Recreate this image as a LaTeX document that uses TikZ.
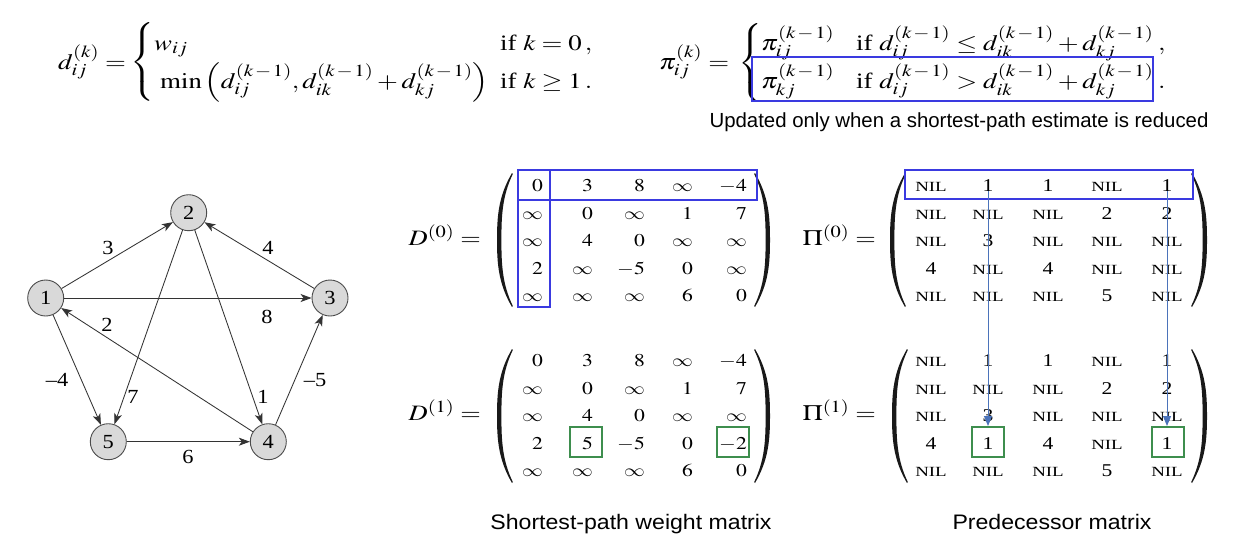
\documentclass[tikz,border=0pt]{standalone}
\usepackage{mathptmx}
\usepackage{amsmath}
\usepackage[no-math]{fontspec}
\setmainfont{Liberation Serif}
\newfontfamily\arialfont{Liberation Sans}
\usetikzlibrary{arrows.meta}
\DeclareSymbolFont{cmsyfont}{OMS}{cmsy}{m}{n}
\DeclareMathSymbol{\cminf}{\mathord}{cmsyfont}{"31}
\DeclareMathSizes{22}{22}{17}{13}
\definecolor{bblue}{HTML}{3A3AE0}
\definecolor{bgreen}{HTML}{3E8E4E}
\definecolor{arrowblue}{HTML}{4B73BA}
\definecolor{nodefill}{HTML}{D9D9D9}
\definecolor{edgegray}{HTML}{333333}
\newcommand{\F}[1]{\scalebox{1.22}[1]{$#1$}}
\newcommand{\M}[1]{\scalebox{1.2}[1]{$#1$}}
\newcommand{\G}[1]{\scalebox{1.12}[1]{#1}}
\newcommand{\I}{\cminf}
\newcommand{\km}{(k\mskip1.5mu-\mskip1.5mu1)}
\newcommand{\NILtxt}{\scalebox{1.125}[1]{\fontsize{14}{14}\selectfont NIL}}
\newcommand{\Drow}[3]{\foreach \v [count=\c] in {#3} {\pgfmathsetmacro\xx{{543,593,645,693,747}[\c-1]}\node[ment, anchor=base east] (#1-\c) at (\xx,#2) {\M{\v}};}}
\newcommand{\Prow}[3]{\foreach \v [count=\c] in {#3} {\pgfmathsetmacro\xx{{931,988,1048,1107,1167}[\c-1]}\node[ment, anchor=base] (#1-\c) at (\xx,#2) {\scalebox{1.2}[1]{\v}};}}
\tikzset{
  gnode/.style={circle, draw=black!70, line width=0.9pt, fill=nodefill, minimum size=36pt, inner sep=0pt, font=\fontsize{20}{20}\selectfont},
  gedge/.style={draw=edgegray, line width=0.85pt, -{Stealth[length=11pt,width=8pt,inset=3pt]}},
  glabel/.style={inner sep=0pt, font=\fontsize{20}{20}\selectfont},
  ment/.style={inner sep=0pt, font=\fontsize{18}{18}\selectfont},
  mlab/.style={inner sep=0pt, anchor=base east, font=\fontsize{22}{22}\selectfont},
  fpart/.style={inner sep=0pt, font=\fontsize{22}{22}\selectfont, anchor=base west},
  bluebox/.style={draw=bblue, line width=2.2pt},
  gbox/.style={draw=bgreen, line width=2pt, minimum width=32pt, minimum height=30pt, inner sep=0pt},
  barrow/.style={draw=arrowblue, line width=0.9pt, -{Triangle[length=10pt,width=8pt]}},
  sanscap/.style={inner sep=0pt, anchor=base, font=\arialfont\fontsize{21}{21}\selectfont},
  updtext/.style={inner sep=0pt, anchor=base, font=\arialfont\fontsize{20.4}{22}\selectfont},
  lpar/.pic={\fill[black!90] (15,-67) .. controls (1.5,-44) and (0,-24) .. (0,0) .. controls (0,24) and (1.5,44) .. (15,67) -- (15.8,66) .. controls (5.2,44) and (4.4,24) .. (4.4,0) .. controls (4.4,-24) and (5.2,-44) .. (15.8,-66) -- cycle;}
}
\begin{document}
\begin{tikzpicture}[x=1pt,y=-1pt]
\useasboundingbox[fill=white] (0,0) rectangle (1244,555);
% ---------- formula 1
\node[fpart] (f1lhs) at (58,69) {\F{d_{ij}^{(k)} =}};
\node[fpart, anchor=center] (f1br) at (143.5,62) {\F{\left\{\vcenter{\hbox{\vrule height 78pt width 0pt}}\right.}};
\node[fpart] (f1r1) at (154,50) {\F{w_{ij}}};
\node[fpart] (f1r2) at (160,88) {\F{\min\,\Bigl(d_{ij}^{\km}, d_{ik}^{\km} + d_{kj}^{\km}\Bigr)}};
\node[fpart] (f1c1) at (500,50) {\F{\text{if } k = 0\,,}};
\node[fpart] (f1c2) at (500,88) {\F{\text{if } k \geq 1\,.}};
% ---------- formula 2
\node[fpart] (f2lhs) at (659,69) {\F{\pi_{ij}^{(k)} =}};
\node[fpart, anchor=center] (f2br) at (751.5,63) {\F{\left\{\vcenter{\hbox{\vrule height 78pt width 0pt}}\right.}};
\node[fpart] (f2r1a) at (761,50) {\F{\pi_{ij}^{\km}}};
\node[fpart] (f2r2a) at (761,88) {\F{\pi_{kj}^{\km}}};
\node[fpart] (f2r1b) at (856,50) {\F{\text{if } d_{ij}^{\km} \leq d_{ik}^{\km} + d_{kj}^{\km}}};
\node[fpart] (f2r2b) at (856,88) {\F{\text{if } d_{ij}^{\km} > d_{ik}^{\km} + d_{kj}^{\km}}};
\node[fpart] (f2comma) at (1158,50) {\F{,}};
\node[fpart] (f2dot) at (1158,88) {\F{.}};
\draw[bluebox] (752,57) rectangle (1153,101);
\node[updtext] (upd) at (959,127) {Updated only when a shortest-path estimate is reduced};
% ---------- graph
\node[gnode] (v1) at (45.7,298) {\G{1}};
\node[gnode] (v2) at (188.7,212.7) {\G{2}};
\node[gnode] (v3) at (330,298) {\G{3}};
\node[gnode] (v4) at (268.3,441.7) {\G{4}};
\node[gnode] (v5) at (108.3,441.7) {\G{5}};
\draw[gedge] (v1) -- (v2);
\draw[gedge] (v3) -- (v2);
\draw[gedge] (v1) -- (v3);
\draw[gedge] (v4) -- (v1);
\draw[gedge] (v1) -- (v5);
\draw[gedge] (v2) -- (v5);
\draw[gedge] (v2) -- (v4);
\draw[gedge] (v4) -- (v3);
\draw[gedge] (v5) -- (v4);
\node[glabel] (w12) at (108,248) {\G{3}};
\node[glabel] (w32) at (268,248) {\G{4}};
\node[glabel] (w13) at (267,317) {\G{8}};
\node[glabel] (w41) at (107,325) {\G{2}};
\node[glabel] (w15) at (57,380) {\G{–4}};
\node[glabel] (w25) at (133,397) {\G{7}};
\node[glabel] (w24) at (263,397) {\G{1}};
\node[glabel] (w43) at (315,380) {\G{–5}};
\node[glabel] (w54) at (188,457) {\G{6}};
% ---------- D(0)
\node[mlab] (d0lab) at (481,245.5) {\M{D^{(0)} =}};
\pic at (497,240) {lpar};
\pic[xscale=-1] at (770,240) {lpar};
\Drow{d0-1}{191}{0,3,8,\I,-4}
\Drow{d0-2}{219.5}{\I,0,\I,1,7}
\Drow{d0-3}{246}{\I,4,0,\I,\I}
\Drow{d0-4}{274.5}{2,\I,-5,0,\I}
\Drow{d0-5}{301}{\I,\I,\I,6,0}
\draw[bluebox] (518,170) rectangle (757,200);
\draw[bluebox] (518,170) rectangle (550,307);
% ---------- D(1)
\node[mlab] (d1lab) at (481,420.5) {\M{D^{(1)} =}};
\pic at (497,416) {lpar};
\pic[xscale=-1] at (770,416) {lpar};
\Drow{d1-1}{366}{0,3,8,\I,-4}
\Drow{d1-2}{394}{\I,0,\I,1,7}
\Drow{d1-3}{421}{\I,4,0,\I,\I}
\Drow{d1-4}{449}{2,5,-5,0,-2}
\Drow{d1-5}{476}{\I,\I,\I,6,0}
\node[gbox] (dg1) at (586,442) {};
\node[gbox] (dg2) at (732.5,442) {};
\node[sanscap] (cap1) at (631,529) {\scalebox{1.1}[1]{Shortest-path weight matrix}};
% ---------- Pi(0)
\node[mlab] (p0lab) at (876,245.5) {\M{\Pi^{(0)} =}};
\pic at (890,240) {lpar};
\pic[xscale=-1] at (1207,240) {lpar};
\Prow{p0-1}{191}{\NILtxt,1,1,\NILtxt,1}
\Prow{p0-2}{219.5}{\NILtxt,\NILtxt,\NILtxt,2,2}
\Prow{p0-3}{246}{\NILtxt,3,\NILtxt,\NILtxt,\NILtxt}
\Prow{p0-4}{274.5}{4,\NILtxt,4,\NILtxt,\NILtxt}
\Prow{p0-5}{301}{\NILtxt,\NILtxt,\NILtxt,5,\NILtxt}
\draw[bluebox] (905,170) rectangle (1193,199);
% ---------- Pi(1)
\node[mlab] (p1lab) at (876,420.5) {\M{\Pi^{(1)} =}};
\pic at (892,416) {lpar};
\pic[xscale=-1] at (1207,416) {lpar};
\Prow{p1-1}{366}{\NILtxt,1,1,\NILtxt,1}
\Prow{p1-2}{394}{\NILtxt,\NILtxt,\NILtxt,2,2}
\Prow{p1-3}{421}{\NILtxt,3,\NILtxt,\NILtxt,\NILtxt}
\Prow{p1-4}{449}{4,1,4,\NILtxt,1}
\Prow{p1-5}{476}{\NILtxt,\NILtxt,\NILtxt,5,\NILtxt}
\node[gbox] (pg1) at (987.5,442) {};
\node[gbox] (pg2) at (1168,442) {};
\node[sanscap] (cap2) at (1052,529) {\scalebox{1.1}[1]{Predecessor matrix}};
% ---------- update arrows
\draw[barrow] (p0-1-2.south) -- (p0-1-2.south |- pg1.north);
\draw[barrow] (p0-1-5.south) -- (p0-1-5.south |- pg2.north);
\end{tikzpicture}
\end{document}
